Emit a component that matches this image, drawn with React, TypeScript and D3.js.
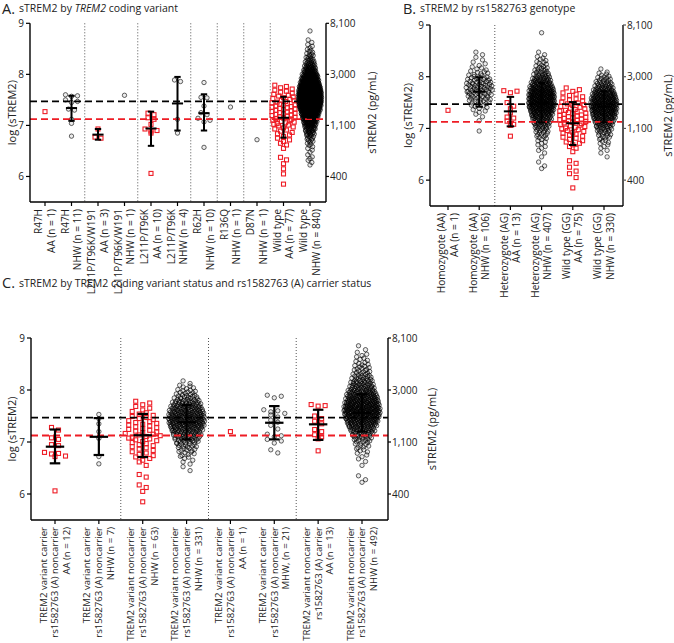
import React from "react";
import * as d3 from "d3";

// ---------------- shared ----------------
const yTicks = [9, 8, 7, 6];
const pgTickLabels = ["8,100", "3,000", "1,100", "400"];
const refBlack = 7.47;
const refRed = 7.125;

// ---------------- Panel A ----------------
const labelsA: string[][] = [
  ["R47H", "AA (n = 1)"],
  ["R47H", "NHW (n = 11)"],
  ["L211P/T96K/W191", "AA (n = 3)"],
  ["L211P/T96K/W191", "NHW (n = 1)"],
  ["L211P/T96K", "AA (n = 10)"],
  ["L211P/T96K", "NHW (n = 4)"],
  ["R62H", "NHW (n = 10)"],
  ["R136Q", "NHW (n = 1)"],
  ["D87N", "NHW (n = 1)"],
  ["Wild type", "AA (n = 77)"],
  ["Wild type", "NHW (n = 840)"],
];
const markersA = ["sq", "ci", "sq", "ci", "sq", "ci", "ci", "ci", "ci", "sq", "ci"];
const sepsA = [1, 3, 5, 6, 7, 8];
const a_R47H_AA = [7.27];
const a_R47H_NHW = [7.6, 7.58, 7.57, 7.5, 7.47, 7.45, 7.32, 7.3, 7.12, 7.04, 6.79];
const a_L211PW_AA = [6.93, 6.77, 6.75];
const a_L211PW_NHW = [7.59];
const a_L211P_AA = [7.24, 7.21, 7.15, 7.12, 7.02, 6.93, 6.9, 6.89, 6.85, 6.06];
const a_L211P_NHW = [7.89, 7.86, 7.12, 6.85];
const a_R62H_NHW = [7.84, 7.55, 7.54, 7.38, 7.25, 7.21, 7.14, 7.1, 7.07, 6.57];
const a_R136Q_NHW = [7.36];
const a_D87N_NHW = [6.72];
// dense groups: counts per 0.1 log bin
const a_WT_AA_start = 5.8;
const a_WT_AA_counts = [1, 0, 1, 1, 1, 2, 0, 1, 3, 3, 4, 5, 7, 8, 9, 8, 8, 6, 5, 4];
const a_WT_NHW_start = 6.2;
const a_WT_NHW_counts = [2, 3, 2, 3, 5, 8, 14, 20, 30, 45, 62, 82, 97, 100, 97, 82, 62, 45, 30, 20, 12, 8, 5, 3, 2, 0, 1];
const meansA = [null, 7.34, 6.82, null, 6.94, 7.43, 7.24, null, null, 7.15, 7.5];
const lowsA = [null, 7.09, 6.72, null, 6.6, 6.9, 6.9, null, null, 6.76, 7.15];
const highsA = [null, 7.58, 6.93, null, 7.27, 7.95, 7.61, null, null, 7.56, 7.85];

// ---------------- Panel B ----------------
const labelsB: string[][] = [
  ["Homozygote (AA)", "AA (n = 1)"],
  ["Homozygote (AA)", "NHW (n = 106)"],
  ["Heterozygote (AG)", "AA (n = 13)"],
  ["Heterozygote (AG)", "NHW (n = 407)"],
  ["Wild type (GG)", "AA (n = 75)"],
  ["Wild type (GG)", "NHW (n = 330)"],
];
const markersB = ["sq", "ci", "sq", "ci", "sq", "ci"];
const sepsB = [1];
const b_Hom_AA = [7.35];
const b_Hom_NHW_start = 6.9;
const b_Hom_NHW_counts = [1, 0, 1, 2, 4, 7, 11, 14, 17, 16, 13, 8, 5, 3, 2, 2];
const b_Het_AA = [7.73, 7.72, 7.69, 7.5, 7.43, 7.38, 7.3, 7.22, 7.2, 7.14, 7.08, 7.06, 6.85];
const b_Het_NHW_start = 6.2;
const b_Het_NHW_counts = [2, 1, 1, 2, 3, 4, 7, 10, 15, 22, 30, 40, 48, 47, 47, 40, 30, 22, 14, 9, 6, 4, 2, 0, 0, 0, 1];
const b_WT_AA_start = 5.8;
const b_WT_AA_counts = [1, 0, 1, 2, 1, 2, 0, 1, 3, 4, 5, 6, 7, 8, 9, 7, 6, 5, 4, 3];
const b_WT_NHW_start = 6.4;
const b_WT_NHW_counts = [1, 2, 3, 5, 8, 12, 18, 26, 35, 42, 45, 42, 35, 24, 16, 10, 5, 1];
const meansB = [null, 7.71, 7.33, 7.5, 7.1, 7.42];
const lowsB = [null, 7.42, 7.04, 7.12, 6.68, 7.12];
const highsB = [null, 7.99, 7.61, 7.88, 7.51, 7.72];

// ---------------- Panel C ----------------
const labelsC: string[][] = [
  ["TREM2 variant carrier", "rs1582763 (A) noncarrier", "AA (n = 12)"],
  ["TREM2 variant carrier", "rs1582763 (A) noncarrier", "NHW (n = 7)"],
  ["TREM2 variant noncarrier", "rs1582763 (A) noncarrier", "NHW (n = 63)"],
  ["TREM2 variant noncarrier", "rs1582763 (A) noncarrier", "NHW (n = 331)"],
  ["TREM2 variant carrier", "rs1582763 (A) noncarrier", "AA (n = 1)"],
  ["TREM2 variant carrier", "rs1582763 (A) noncarrier", "MHW, (n = 21)"],
  ["TREM2 variant noncarrier", "rs1582763 (A) carrier", "AA (n = 13)"],
  ["TREM2 variant noncarrier", "rs1582763 (A) noncarrier", "NHW (n = 492)"],
];
const markersC = ["sq", "ci", "sq", "ci", "sq", "ci", "sq", "ci"];
const sepsC = [1, 3, 5];
const c_1 = [7.28, 7.23, 7.08, 7.05, 6.95, 6.93, 6.8, 6.78, 6.77, 6.73, 6.72, 6.06];
const c_2 = [7.53, 7.45, 7.35, 7.2, 7.07, 6.72, 6.58];
const c_3_start = 5.8;
const c_3_counts = [1, 0, 1, 2, 0, 2, 0, 1, 3, 4, 4, 5, 6, 7, 6, 6, 5, 4, 3, 3];
const c_4_start = 6.4;
const c_4_counts = [1, 2, 3, 6, 9, 13, 19, 26, 34, 42, 44, 40, 33, 25, 16, 10, 6, 2];
const c_5 = [7.2];
const c_6 = [7.9, 7.88, 7.85, 7.62, 7.6, 7.58, 7.55, 7.52, 7.48, 7.42, 7.38, 7.32, 7.25, 7.15, 7.12, 7.1, 7.05, 7.02, 6.98, 6.85, 6.79];
const c_7 = [7.72, 7.7, 7.69, 7.5, 7.45, 7.4, 7.35, 7.24, 7.2, 7.14, 7.1, 7.06, 6.83];
const c_8_start = 6.2;
const c_8_counts = [2, 1, 0, 1, 2, 3, 5, 7, 12, 18, 28, 38, 48, 56, 57, 50, 42, 33, 25, 20, 14, 10, 8, 5, 4, 2, 1];
const meansC = [6.91, 7.1, 7.13, 7.38, null, 7.37, 7.34, 7.56];
const lowsC = [6.59, 6.75, 6.71, 7.05, null, 7.05, 7.04, 7.2];
const highsC = [7.24, 7.46, 7.54, 7.71, null, 7.69, 7.62, 7.92];

// expand a histogram (counts per 0.1 bin) into member values within each bin
function fromHist(start: number, counts: number[], bin = 0.1): number[] {
  const out: number[] = [];
  counts.forEach((c, i) => {
    for (let k = 0; k < c; k++) out.push(start + i * bin + ((k + 0.5) / c) * bin);
  });
  return out;
}

const valuesA = [
  a_R47H_AA, a_R47H_NHW, a_L211PW_AA, a_L211PW_NHW, a_L211P_AA, a_L211P_NHW,
  a_R62H_NHW, a_R136Q_NHW, a_D87N_NHW,
  fromHist(a_WT_AA_start, a_WT_AA_counts), fromHist(a_WT_NHW_start, a_WT_NHW_counts),
];
const valuesB = [
  b_Hom_AA, fromHist(b_Hom_NHW_start, b_Hom_NHW_counts), b_Het_AA,
  fromHist(b_Het_NHW_start, b_Het_NHW_counts), fromHist(b_WT_AA_start, b_WT_AA_counts),
  fromHist(b_WT_NHW_start, b_WT_NHW_counts),
];
const valuesC = [
  c_1, c_2, fromHist(c_3_start, c_3_counts), fromHist(c_4_start, c_4_counts), c_5, c_6, c_7,
  fromHist(c_8_start, c_8_counts),
];

const RED = "#ee1c25";
const FONT = "'Open Sans', sans-serif";

// permutation of 0..k-1 (low-discrepancy order) so a row's slots are all used once
function slotOrder(k: number): number[] {
  const idx = d3.range(k);
  const key = idx.map((i) => (i * 0.6180339887) % 1);
  const sortedIdx = [...idx].sort((a, b) => key[a] - key[b]);
  const slot = new Array(k);
  sortedIdx.forEach((orig, rank) => (slot[orig] = rank));
  return slot;
}

// Prism-like row swarm layout: row width grows with the row's count
function swarm(values: number[], y: (v: number) => number, rowH: number, gap: number, maxHalf: number) {
  const sorted = [...values].sort((a, b) => b - a);
  const rows: number[][] = [];
  let cur: number[] = [];
  let rowStart = 0;
  for (const v of sorted) {
    const py = y(v);
    if (cur.length && py - rowStart > rowH) {
      rows.push(cur);
      cur = [];
    }
    if (!cur.length) rowStart = py;
    cur.push(v);
  }
  if (cur.length) rows.push(cur);
  const kmax = d3.max(rows, (r) => r.length) || 1;
  const pts: { v: number; dx: number }[] = [];
  for (const row of rows) {
    const k = row.length;
    const half = k > 1 ? Math.min(((k - 1) * gap) / 2, maxHalf * Math.sqrt(k / kmax)) : 0;
    const sp = k > 1 ? (2 * half) / (k - 1) : 0;
    const slots = k > 2 ? slotOrder(k) : d3.range(k);
    row.forEach((v, i) => {
      pts.push({ v, dx: (slots[i] - (k - 1) / 2) * sp });
    });
  }
  return pts;
}

type PanelProps = {
  labels: string[][];
  markers: string[];
  values: number[][];
  means: (number | null)[];
  lows: (number | null)[];
  highs: (number | null)[];
  seps: number[];
  x0: number;
  x1: number;
  yTop: number;
  yBot: number;
  px0: number;
  px1: number;
  maxHalf: number;
  gap: number;
  leftLabelX: number;
  rightLabelX: number;
  rightAxisColor: string;
  rightAxisWidth: number;
  barW: number;
  xFont: number;
  lineH: number;
};

function Panel(p: PanelProps) {
  const y = d3.scaleLinear().domain([5.5, 9]).range([p.yBot, p.yTop]);
  const x = d3.scalePoint<number>().domain(d3.range(p.labels.length)).range([p.px0, p.px1]);
  const step = x.step();
  const meanHalf = step * 0.21;
  const capHalf = step * 0.12;
  const cy = (p.yTop + p.yBot) / 2;
  return (
    <g fontFamily={FONT}>
      {/* separators */}
      {p.seps.map((i) => {
        const sx = ((x(i) as number) + (x(i + 1) as number)) / 2;
        return (
          <line key={"s" + i} x1={sx} x2={sx} y1={p.yTop} y2={p.yBot} stroke="#555" strokeWidth={1} strokeDasharray="1,2" />
        );
      })}
      {/* points */}
      {p.values.map((vals, gi) => {
        const cx = x(gi) as number;
        const pts = swarm(vals, y, 4, p.gap, p.maxHalf);
        return (
          <g key={"g" + gi}>
            {pts.map((pt, j) =>
              p.markers[gi] === "sq" ? (
                <rect key={j} x={cx + pt.dx - 2} y={y(pt.v) - 2} width={4} height={4} fill="none" stroke={RED} strokeWidth={1.1} />
              ) : (
                <circle key={j} cx={cx + pt.dx} cy={y(pt.v)} r={2.2} fill="#000" fillOpacity={0.08} stroke="#000" strokeOpacity={0.6} strokeWidth={1} />
              )
            )}
          </g>
        );
      })}
      {/* reference lines */}
      <line x1={p.x0} x2={p.x1} y1={y(refBlack)} y2={y(refBlack)} stroke="#000" strokeWidth={1.8} strokeDasharray="7,4" />
      <line x1={p.x0} x2={p.x1} y1={y(refRed)} y2={y(refRed)} stroke={RED} strokeWidth={1.8} strokeDasharray="7,4" />
      {/* mean and SD bars */}
      {p.means.map((m, gi) => {
        if (m === null) return null;
        const cx = x(gi) as number;
        const lo = p.lows[gi] as number;
        const hi = p.highs[gi] as number;
        return (
          <g key={"b" + gi} stroke="#000" strokeWidth={p.barW}>
            <line x1={cx} x2={cx} y1={y(hi)} y2={y(lo)} />
            <line x1={cx - capHalf} x2={cx + capHalf} y1={y(hi)} y2={y(hi)} />
            <line x1={cx - capHalf} x2={cx + capHalf} y1={y(lo)} y2={y(lo)} />
            <line x1={cx - meanHalf} x2={cx + meanHalf} y1={y(m)} y2={y(m)} />
          </g>
        );
      })}
      {/* left axis */}
      <line x1={p.x0} x2={p.x0} y1={p.yTop} y2={p.yBot} stroke="#000" strokeWidth={1.4} />
      {yTicks.map((t) => (
        <g key={"l" + t}>
          <line x1={p.x0 - 4} x2={p.x0} y1={y(t)} y2={y(t)} stroke="#000" strokeWidth={1.2} />
          <text x={p.x0 - 6} y={y(t)} dy="0.35em" textAnchor="end" fontSize={10} fill="#222">
            {t}
          </text>
        </g>
      ))}
      {/* right axis */}
      <line x1={p.x1} x2={p.x1} y1={p.yTop} y2={p.yBot} stroke={p.rightAxisColor} strokeWidth={p.rightAxisWidth} />
      {yTicks.map((t, i) => (
        <g key={"r" + t}>
          <line x1={p.x1} x2={p.x1 + 3} y1={y(t)} y2={y(t)} stroke={p.rightAxisColor} strokeWidth={1.2} />
          <text x={p.x1 + 4} y={y(t)} dy="0.35em" textAnchor="start" fontSize={10} fill="#222">
            {pgTickLabels[i]}
          </text>
        </g>
      ))}
      {/* bottom axis */}
      <line x1={p.x0} x2={p.x1} y1={p.yBot} y2={p.yBot} stroke="#000" strokeWidth={1.4} />
      {p.labels.map((lines, gi) => {
        const cx = x(gi) as number;
        const n = lines.length;
        return (
          <g key={"x" + gi}>
            <line x1={cx} x2={cx} y1={p.yBot} y2={p.yBot + 4} stroke="#000" strokeWidth={1.2} />
            <text transform={`translate(${cx},${p.yBot + 7}) rotate(-90)`} textAnchor="end" fontSize={p.xFont} fill="#222">
              {lines.map((l, li) => (
                <tspan key={li} x={0} y={(li - (n - 1) / 2) * p.lineH} dy="0.35em">
                  {l}
                </tspan>
              ))}
            </text>
          </g>
        );
      })}
      {/* axis titles */}
      <text transform={`translate(${p.leftLabelX + 4},${cy}) rotate(-90)`} textAnchor="middle" fontSize={11} fill="#222">
        log (sTREM2)
      </text>
      <text transform={`translate(${p.rightLabelX + 4},${cy}) rotate(-90)`} textAnchor="middle" fontSize={11} fill="#222">
        sTREM2 (pg/mL)
      </text>
    </g>
  );
}

export default function App() {
  return (
    <svg width={674} height={643} style={{ position: "absolute", left: 0, top: 0, background: "#fff" }} fontFamily={FONT}>
      {/* titles */}
      <text x={2} y={14} fontSize={14.5} fill="#222">A.</text>
      <text x={19} y={12} fontSize={10.5} fill="#222">
        sTREM2 by <tspan fontStyle="italic">TREM2</tspan> coding variant
      </text>
      <text x={403} y={14} fontSize={14.5} fill="#222">B.</text>
      <text x={420} y={12} fontSize={10.5} fill="#222">sTREM2 by rs1582763 genotype</text>
      <text x={2} y={288} fontSize={14.5} fill="#222">C.</text>
      <text x={19} y={286.5} fontSize={10.5} fill="#222">
        sTREM2 by TREM2 coding variant status and rs1582763 (A) carrier status
      </text>

      <Panel
        labels={labelsA}
        markers={markersA}
        values={valuesA}
        means={meansA}
        lows={lowsA}
        highs={highsA}
        seps={sepsA}
        x0={30}
        x1={326}
        yTop={23.3}
        yBot={202}
        px0={45}
        px1={310}
        maxHalf={11.5}
        gap={6}
        leftLabelX={12}
        rightLabelX={372}
        rightAxisColor="#000"
        rightAxisWidth={1.4}
        barW={2}
        xFont={10}
        lineH={12.3}
      />
      <Panel
        labels={labelsB}
        markers={markersB}
        values={valuesB}
        means={meansB}
        lows={lowsB}
        highs={highsB}
        seps={sepsB}
        x0={430}
        x1={623}
        yTop={25}
        yBot={206}
        px0={448}
        px1={604}
        maxHalf={13}
        gap={6.6}
        leftLabelX={408}
        rightLabelX={668}
        rightAxisColor="#555"
        rightAxisWidth={2}
        barW={2}
        xFont={10}
        lineH={12.3}
      />
      <Panel
        labels={labelsC}
        markers={markersC}
        values={valuesC}
        means={meansC}
        lows={lowsC}
        highs={highsC}
        seps={sepsC}
        x0={31}
        x1={388}
        yTop={338}
        yBot={520}
        px0={55}
        px1={362}
        maxHalf={18}
        gap={7}
        leftLabelX={12}
        rightLabelX={432}
        rightAxisColor="#000"
        rightAxisWidth={1.4}
        barW={2.2}
        xFont={9.6}
        lineH={11.8}
      />
    </svg>
  );
}
